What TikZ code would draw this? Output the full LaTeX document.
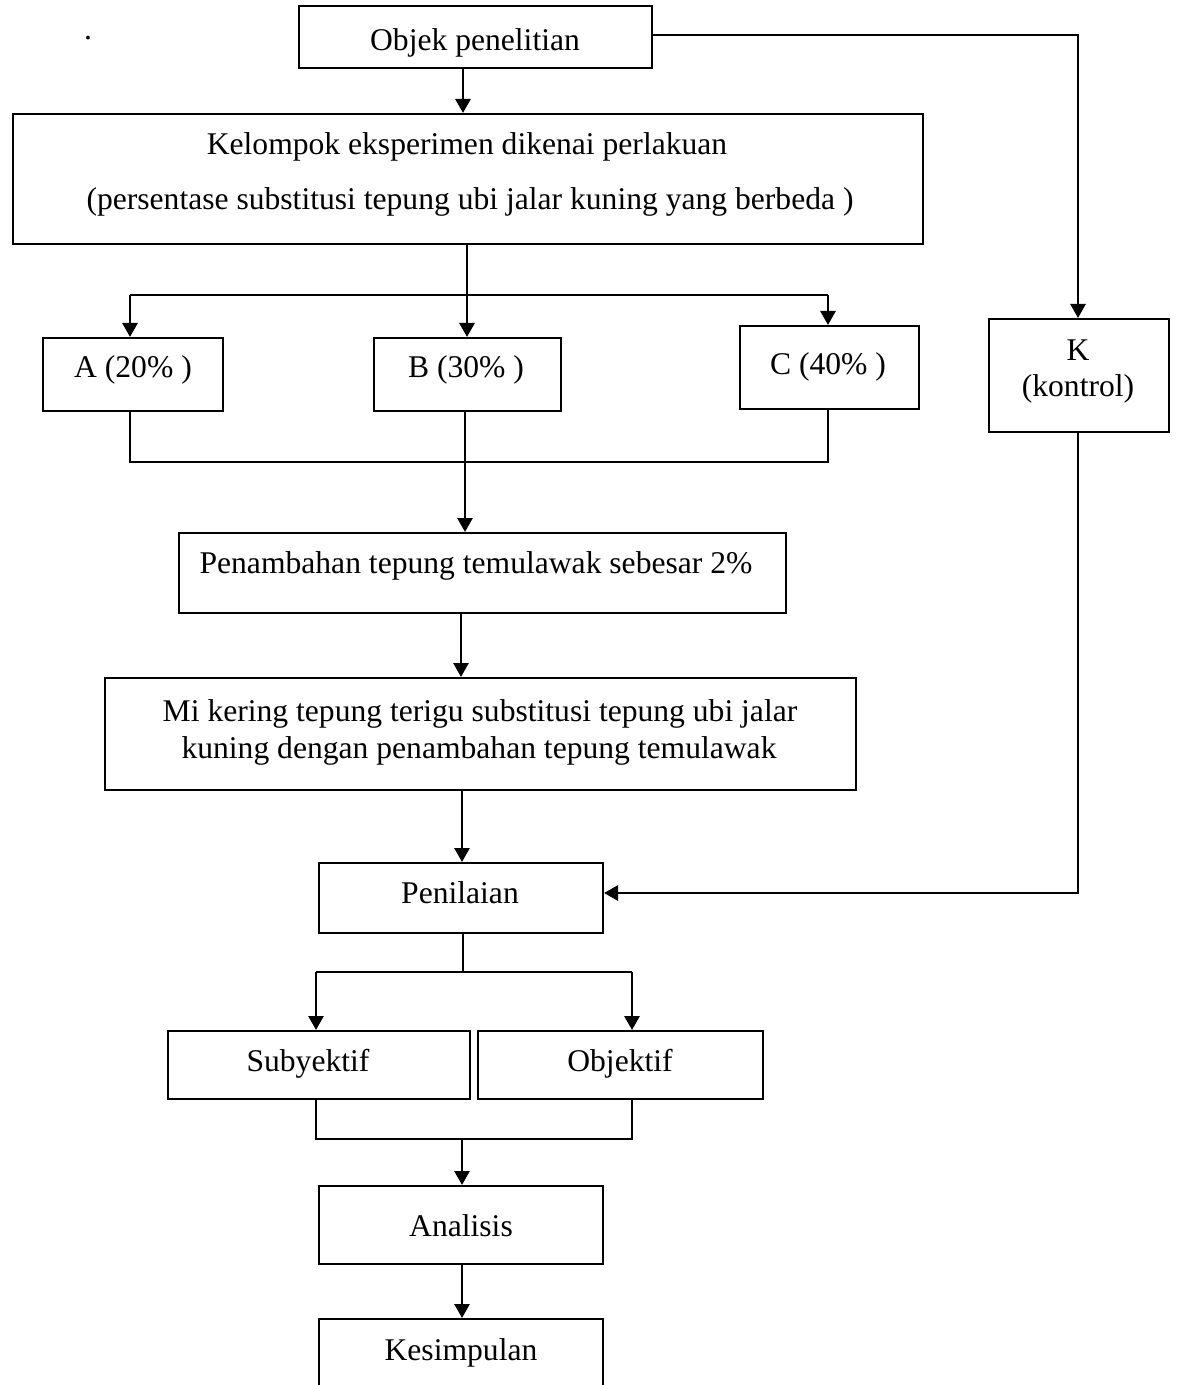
\documentclass[tikz,border=0pt]{standalone}
\usepackage{fontspec}
\setmainfont{Liberation Serif}
\usetikzlibrary{arrows.meta}
\begin{document}
\begin{tikzpicture}[x=0.5pt,y=-0.5pt,
  box/.style={draw,line width=1pt,inner sep=0pt,anchor=north west},
  txt/.style={anchor=base,inner sep=0pt,font=\fontsize{15.8}{18}\selectfont},
  ln/.style={line width=1pt},
  arr/.style={line width=1.4pt,-{Triangle[length=7pt,width=7.5pt]}}]
\useasboundingbox (0,0) rectangle (1178,1385);
\clip (0,0) rectangle (1178,1385);
% boxes
\node[box,minimum width=353*0.5pt,minimum height=62*0.5pt] (obj) at (298,5) {};
\node[box,minimum width=910*0.5pt,minimum height=130*0.5pt] (kel) at (12,113) {};
\node[box,minimum width=180*0.5pt,minimum height=73*0.5pt] (a) at (42,337) {};
\node[box,minimum width=187*0.5pt,minimum height=73*0.5pt] (b) at (373,337) {};
\node[box,minimum width=179*0.5pt,minimum height=83*0.5pt] (c) at (739,325) {};
\node[box,minimum width=180*0.5pt,minimum height=113*0.5pt] (k) at (988,318) {};
\node[box,minimum width=607*0.5pt,minimum height=80*0.5pt] (pen) at (178,532) {};
\node[box,minimum width=751*0.5pt,minimum height=112*0.5pt] (mi) at (104,677) {};
\node[box,minimum width=284*0.5pt,minimum height=70*0.5pt] (nil) at (318,862) {};
\node[box,minimum width=302*0.5pt,minimum height=68*0.5pt] (sub) at (167,1030) {};
\node[box,minimum width=285*0.5pt,minimum height=68*0.5pt] (objk) at (477,1030) {};
\node[box,minimum width=284*0.5pt,minimum height=78*0.5pt] (ana) at (318,1185) {};
\node[box,minimum width=284*0.5pt,minimum height=120*0.5pt] (kes) at (318,1318) {};
% texts
\node[txt] (dot) at (88,40) {.};
\node[txt] (tobj) at (475,51) {Objek penelitian};
\node[txt] (tkel1) at (467,155) {Kelompok eksperimen dikenai perlakuan};
\node[txt] (tkel2) at (470,210) {(persentase substitusi tepung ubi jalar kuning yang berbeda )};
\node[txt] (ta) at (133,377) {A (20\% )};
\node[txt] (tb) at (466,377) {B (30\% )};
\node[txt] (tc) at (828,374) {C (40\% )};
\node[txt] (tk1) at (1078,360) {K};
\node[txt] (tk2) at (1078,396) {(kontrol)};
\node[txt] (tpen) at (476,573) {Penambahan tepung temulawak sebesar 2\%};
\node[txt] (tmi1) at (480,721) {Mi kering tepung terigu substitusi tepung ubi jalar};
\node[txt] (tmi2) at (479,758) {kuning dengan penambahan tepung temulawak};
\node[txt] (tnil) at (460,903) {Penilaian};
\node[txt] (tsub) at (308,1071) {Subyektif};
\node[txt] (tobjk) at (620,1071) {Objektif};
\node[txt] (tana) at (461,1236) {Analisis};
\node[txt] (tkes) at (461,1360) {Kesimpulan};
% connectors
\draw[arr] (463,0 |- obj.south) -- (463,0 |- kel.north);
\draw[arr] (obj.east |- 0,35) -| (1078,0 |- k.north);
\draw[ln] (467,0 |- kel.south) -- (467,295);
\draw[ln] (130,295) -- (828,295);
\draw[arr] (130,295) -- (130,0 |- a.north);
\draw[arr] (467,295) -- (467,0 |- b.north);
\draw[arr] (828,295) -- (828,0 |- c.north);
\draw[ln] (130,0 |- a.south) |- (828,462) -- (828,0 |- c.south);
\draw[arr] (465,0 |- b.south) -- (465,0 |- pen.north);
\draw[arr] (461,0 |- pen.south) -- (461,0 |- mi.north);
\draw[arr] (462,0 |- mi.south) -- (462,0 |- nil.north);
\draw[arr] (1078,0 |- k.south) |- (nil.east |- 0,893);
\draw[ln] (463,0 |- nil.south) -- (463,972);
\draw[ln] (316,972) -- (632,972);
\draw[arr] (316,972) -- (316,0 |- sub.north);
\draw[arr] (632,972) -- (632,0 |- objk.north);
\draw[ln] (316,0 |- sub.south) |- (632,1139) -- (632,0 |- objk.south);
\draw[arr] (462,1139) -- (462,0 |- ana.north);
\draw[arr] (462,0 |- ana.south) -- (462,0 |- kes.north);
\end{tikzpicture}
\end{document}
